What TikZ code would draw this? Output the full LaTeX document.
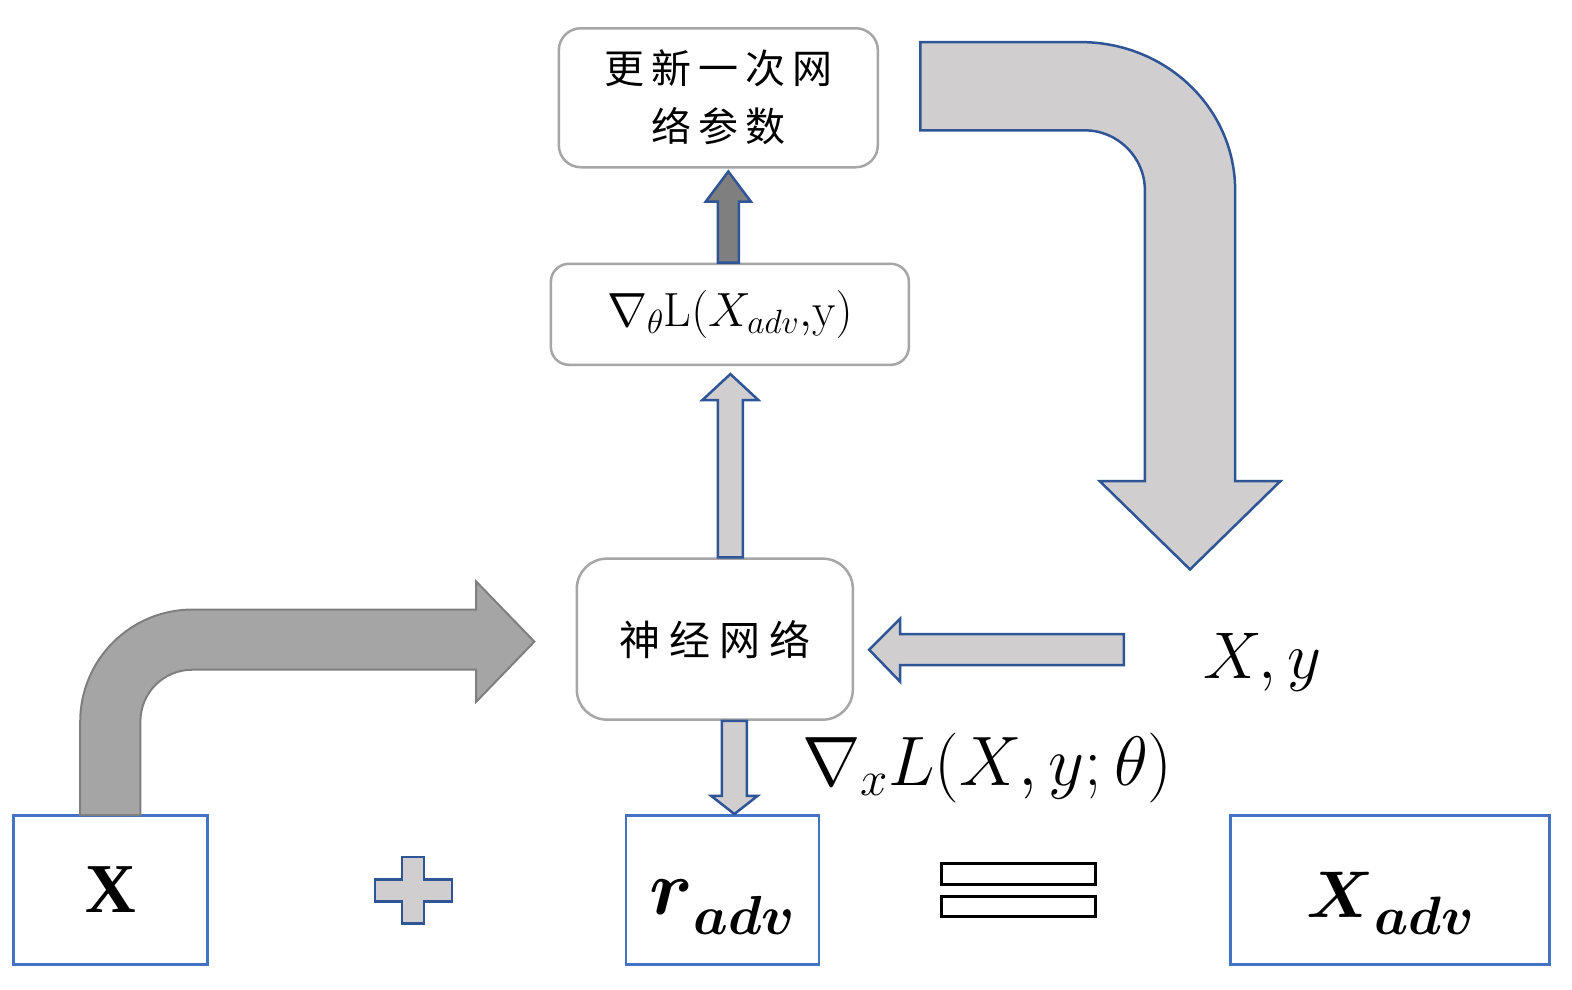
\RequirePackage{fix-cm}
\documentclass[tikz,border=0pt]{standalone}
\usepackage{amsmath}
\usepackage{bm}
\usepackage{fontspec}
\newfontfamily\cjk{Noto Sans CJK SC}
\newfontfamily\tnr{Liberation Serif}
\usetikzlibrary{calc}
\definecolor{boxgray}{HTML}{A6A6A6}
\definecolor{bblue}{HTML}{4472C4}
\definecolor{dblue}{HTML}{2F5597}
\definecolor{lgray}{HTML}{D0CECE}
\definecolor{mgray}{HTML}{A5A5A5}
\definecolor{dgray}{HTML}{7F7F7F}
\newcommand{\cs}{\hspace{7pt}}
\newcommand{\csb}{\hspace{9pt}}
\tikzset{
  rbox/.style={draw=boxgray, line width=2.5pt, rounded corners=22pt, fill=white, inner sep=0pt},
  bbox/.style={draw=bblue, line width=2.5pt, fill=white, inner sep=0pt},
  larrow/.style={draw=dblue, fill=lgray, line width=2.5pt, line join=miter},
  darrow/.style={draw=dblue, fill=dgray, line width=2.5pt, line join=miter},
  garrow/.style={draw=dgray, fill=mgray, line width=2pt, line join=miter},
  eqbar/.style={draw=black, fill=white, line width=3pt}
}
\begin{document}
\begin{tikzpicture}[x=1.00255pt,y=-1.00255pt]
\useasboundingbox (0,0) rectangle (1568,987);
\fill[white] (0,0) rectangle (1568,987);

% boxes
\node[rbox, minimum width=319pt, minimum height=139pt, align=center,
      font=\cjk\fontsize{40}{58}\selectfont] (upd) at (716.5,97.5)
      {更\cs 新\cs 一\cs 次\cs 网\\络\cs 参\cs 数};
\node[rbox, rounded corners=18pt, minimum width=358pt, minimum height=101pt,
      font=\fontsize{48}{56}\selectfont] (grad) at (728,313.5)
      {$\nabla_{\theta}\mathrm{L}(X_{adv}{,}\mathrm{y})$};
\node[rbox, rounded corners=30pt, minimum width=276pt, minimum height=161pt,
      font=\cjk\fontsize{41}{48}\selectfont] (nn) at (713,637.5)
      {神\csb 经\csb 网\csb 络};
\node[bbox, minimum width=194pt, minimum height=149pt,
      font=\tnr\bfseries\fontsize{70}{80}\selectfont] (xb) at (110,887.5) {X};
\node[bbox, minimum width=193pt, minimum height=149pt,
      font=\fontsize{78}{90}\selectfont] (rb) at (720.5,887.5)
      {\raisebox{0pt}[56pt][7pt]{$\bm{r}$\raisebox{-20pt}{\fontsize{55}{55}\selectfont$\bm{adv}$}}\hspace{14pt}};
\node[bbox, minimum width=319pt, minimum height=149pt,
      font=\fontsize{66}{80}\selectfont] (xa) at (1386.5,887.5)
      {\raisebox{0pt}[62pt][7pt]{$\bm{X}$\raisebox{-17pt}{\fontsize{54}{54}\selectfont$\bm{adv}$}}\hspace{17pt}};

% labels
\node[font=\fontsize{66}{70}\selectfont, anchor=base west, inner sep=0pt] (xy) at (1200,677) {$X,y$};
\node[font=\fontsize{70}{74}\selectfont, anchor=base west, inner sep=0pt] (gl) at (800,783) {$\nabla_{x}L(X,y;\theta)$};

% dark up arrow: grad -> upd
\coordinate (d0) at ($(grad.north)+(-1.5,0)$);
\coordinate (d1) at ($(d0 |- upd.south)+(0,3)$);
\draw[darrow] ($(d0)+(-10.5,0)$) -- ($(d1)+(-10.5,30)$) -- ($(d1)+(-22.5,30)$) -- (d1)
  -- ($(d1)+(22.5,30)$) -- ($(d1)+(10.5,30)$) -- ($(d0)+(10.5,0)$) -- cycle;

% light up arrow: nn -> grad
\coordinate (u0) at ($(grad.south |- nn.north)+(0.5,0)$);
\coordinate (u1) at ($(grad.south)+(0.5,8)$);
\draw[larrow] ($(u0)+(-12.5,0)$) -- ($(u1)+(-12.5,26)$) -- ($(u1)+(-28,26)$) -- (u1)
  -- ($(u1)+(28,26)$) -- ($(u1)+(12.5,26)$) -- ($(u0)+(12.5,0)$) -- cycle;

% down arrow: nn -> rb
\coordinate (w0) at ($(nn.south)+(19.5,0)$);
\coordinate (w1) at ($(w0 |- rb.north)$);
\draw[larrow] ($(w0)+(-12.5,0)$) -- ($(w1)+(-12.5,-18)$) -- ($(w1)+(-23,-18)$) -- (w1)
  -- ($(w1)+(23,-18)$) -- ($(w1)+(12.5,-18)$) -- ($(w0)+(12.5,0)$) -- cycle;

% left arrow: xy -> nn
\coordinate (l0) at ($(xy.west |- nn.east)+(-79,10.5)$);
\coordinate (l1) at ($(nn.east)+(15,10.5)$);
\draw[larrow] ($(l0)+(0,-15.5)$) -- ($(l1)+(31,-15.5)$) -- ($(l1)+(31,-31)$) -- (l1)
  -- ($(l1)+(31,32)$) -- ($(l1)+(31,15.5)$) -- ($(l0)+(0,15.5)$) -- cycle;

% bent gray arrow: xb -> nn
\draw[garrow] (80,813) -- (80,720) .. controls (80,658) and (130,608) .. (192,608)
  -- (475,608) -- (475,580) -- (533,640) -- (475,700) -- (475,668) -- (192,668)
  .. controls (163,668) and (140,691) .. (140,720) -- (140,813) -- cycle;

% big bent arrow: upd side -> xy
\draw[larrow] (918,42) -- (1078,42) .. controls (1163,42) and (1232,108) .. (1232,190)
  -- (1232,480) -- (1277,480) -- (1187,568) -- (1097,480) -- (1142,480) -- (1142,190)
  .. controls (1142,157) and (1115,130) .. (1082,130) -- (918,130) -- cycle;

% plus sign
\draw[larrow] (401,855) -- (423,855) -- (423,877) -- (451,877) -- (451,899) -- (423,899)
  -- (423,921) -- (401,921) -- (401,899) -- (374,899) -- (374,877) -- (401,877) -- cycle;

% equals sign
\draw[eqbar] (939,861) rectangle (1093,882);
\draw[eqbar] (939,894) rectangle (1093,914);
\end{tikzpicture}
\end{document}
